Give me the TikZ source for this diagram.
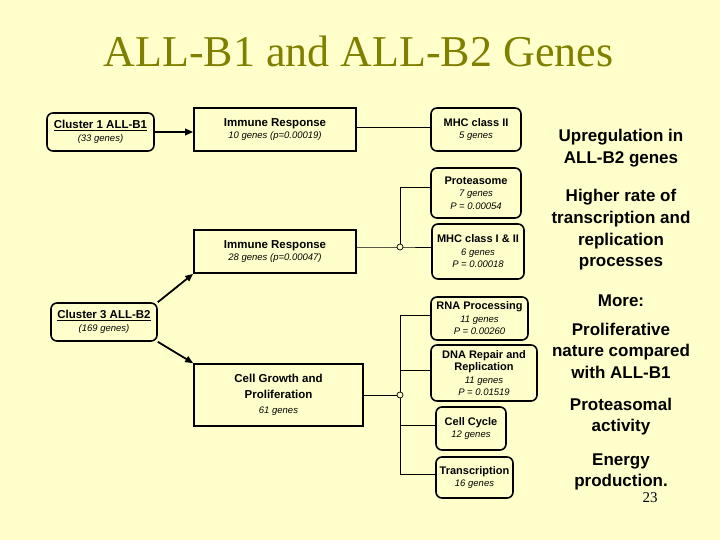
\documentclass[tikz,border=0pt]{standalone}
\usepackage{fontspec}
\setmainfont{Liberation Sans}
\newfontfamily\seriffont{Liberation Serif}
\usetikzlibrary{arrows.meta}
\definecolor{bg}{RGB}{255,255,204}
\definecolor{titlecol}{RGB}{128,128,0}
\newcommand\boxttl[1]{{\fontsize{11.5}{13}\selectfont\bfseries #1}}
\newcommand\boxttr[1]{{\fontsize{11}{13}\selectfont\bfseries #1}}
\newcommand\boxsub[1]{{\fontsize{9.5}{11}\selectfont\itshape #1}}
\begin{document}
\begin{tikzpicture}[x=1pt,y=-1pt,
  sqbox/.style={draw, line width=1.6pt, fill=bg, align=center, inner sep=0pt,
    font=\fontsize{9.5}{12.5}\selectfont},
  rbox/.style={sqbox, rounded corners=6pt},
  conn/.style={line width=0.8pt},
  arr/.style={line width=1.8pt, -{Triangle[length=8pt,width=6.5pt]}},
  jdot/.style={circle, draw, fill=bg, line width=0.7pt, minimum size=6pt, inner sep=0pt},
  rt/.style={font=\fontsize{17}{20}\selectfont\bfseries, anchor=base}]
\useasboundingbox (0,0) rectangle (720,540);
\fill[bg] (0,0) rectangle (720,540);

\node[font=\seriffont\fontsize{44}{48}\selectfont, text=titlecol, anchor=base] (title) at (358.5,67) {ALL-B1 and ALL-B2 Genes};

% left column
\node[rbox, minimum width=107pt, minimum height=38pt] (c1) at (100.5,132)
  {\boxttl{\underline{Cluster 1 ALL-B1}}\\\boxsub{(33 genes)}};
\node[rbox, minimum width=106pt, minimum height=38pt] (c3) at (104,322)
  {\boxttl{\underline{Cluster 3 ALL-B2}}\\\boxsub{(169 genes)}};

% middle column
\node[sqbox, minimum width=162pt, minimum height=43pt] (ir1) at (275,129.5)
  {\boxttl{Immune Response}\\\boxsub{10 genes (p=0.00019)}};
\node[sqbox, minimum width=162pt, minimum height=43pt] (ir2) at (275,251.5)
  {\boxttl{Immune Response}\\\boxsub{28 genes (p=0.00047)}};
\node[sqbox, minimum width=169pt, minimum height=62pt, font=\fontsize{9.5}{15.5}\selectfont] (cgp) at (278.5,395)
  {\boxttl{Cell Growth and}\\\boxttl{Proliferation}\\\boxsub{61 genes}};

% right column
\node[rbox, minimum width=90pt, minimum height=43pt] (mhc2) at (476,129.5)
  {\boxttr{MHC class II}\\\boxsub{5 genes}};
\node[rbox, minimum width=90pt, minimum height=50pt] (prot) at (476,193)
  {\boxttr{Proteasome}\\\boxsub{7 genes}\\\boxsub{P = 0.00054}};
\node[rbox, minimum width=92pt, minimum height=55pt] (mhc12) at (478,251.5)
  {\boxttr{MHC class I \& II}\\\boxsub{6 genes}\\\boxsub{P = 0.00018}};
\node[rbox, minimum width=97pt, minimum height=43pt] (rna) at (479.5,318.5)
  {\boxttr{RNA Processing}\\\boxsub{11 genes}\\\boxsub{P = 0.00260}};
\node[rbox, minimum width=106pt, minimum height=56pt] (dna) at (484,373)
  {\boxttr{DNA Repair and}\\\boxttr{Replication}\\\boxsub{11 genes}\\\boxsub{P = 0.01519}};
\node[rbox, minimum width=70pt, minimum height=43pt] (cc) at (471,428.5)
  {\boxttr{Cell Cycle}\\\boxsub{12 genes}};
\node[rbox, minimum width=77pt, minimum height=41pt] (tr) at (474.5,477.5)
  {\boxttr{Transcription}\\\boxsub{16 genes}};

% arrows
\draw[arr] (c1.east) -- (c1.east -| ir1.west);
\draw[arr] (c3.north east) -- (ir2.south west);
\draw[arr] (c3.south east) -- (cgp.north west);

% connector coordinates
\coordinate (r1) at (400,127);
\coordinate (j1) at (400,247);
\coordinate (b1) at (400,187);
\coordinate (j2) at (400,395);
\coordinate (ba) at (400,315);
\coordinate (bb) at (400,370);
\coordinate (bc) at (400,425);
\coordinate (bd) at (400,474);

\draw[conn] (ir1.east |- r1) -- (mhc2.west |- r1);
\draw[conn] (ir2.east |- j1) -- (j1) -- (mhc12.west |- j1);
\draw[conn] (j1) -- (b1) -- (prot.west |- b1);
\draw[conn] (cgp.east |- j2) -- (j2);
\draw[conn] (ba) -- (bd);
\draw[conn] (ba) -- (rna.west |- ba);
\draw[conn] (bb) -- (dna.west |- bb);
\draw[conn] (bc) -- (cc.west |- bc);
\draw[conn] (bd) -- (tr.west |- bd);
\node[jdot] (jd1) at (j1) {};
\node[jdot] (jd2) at (j2) {};

% right text
\node[rt] (t1) at (621,142) {Upregulation in};
\node[rt] (t2) at (621,163.5) {ALL-B2 genes};
\node[rt] (t3) at (621,202) {Higher rate of};
\node[rt] (t4) at (621,223.5) {transcription and};
\node[rt] (t5) at (621,245) {replication};
\node[rt] (t6) at (621,266.5) {processes};
\node[rt] (t7) at (621,306) {More:};
\node[rt] (t8) at (621,335) {Proliferative};
\node[rt] (t9) at (621,356.5) {nature compared};
\node[rt] (t10) at (621,378) {with ALL-B1};
\node[rt] (t11) at (621,410) {Proteasomal};
\node[rt] (t12) at (621,431.5) {activity};
\node[rt] (t13) at (621,465) {Energy};
\node[rt] (t14) at (621,486.5) {production.};
\node[font=\seriffont\fontsize{15}{18}\selectfont, anchor=base] (pg) at (650,502) {23};
\end{tikzpicture}
\end{document}
